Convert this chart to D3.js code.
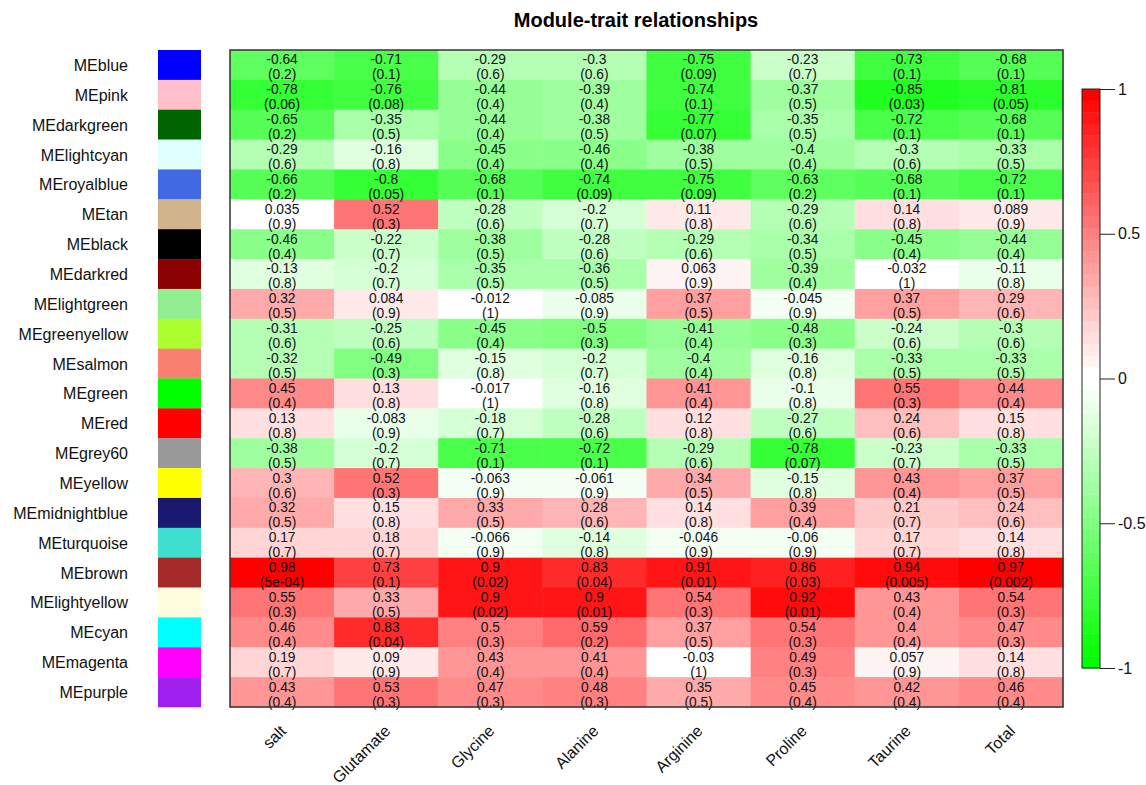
<!DOCTYPE html>
<html>
<head>
<meta charset="utf-8">
<script src="https://cdn.jsdelivr.net/npm/d3@7"></script>
<style>
  html, body { margin: 0; padding: 0; background: #fff; }
  svg { display: block; font-family: "Liberation Sans", Arial, sans-serif; }
</style>
</head>
<body>
<svg id="chart" width="1146" height="785"></svg>
<script>
// Module eigengenes (rows) and traits (columns)
const modules = ["MEblue","MEpink","MEdarkgreen","MElightcyan","MEroyalblue","MEtan","MEblack",
  "MEdarkred","MElightgreen","MEgreenyellow","MEsalmon","MEgreen","MEred","MEgrey60","MEyellow",
  "MEmidnightblue","MEturquoise","MEbrown","MElightyellow","MEcyan","MEmagenta","MEpurple"];

const moduleColors = ["#0000FF","#FFC0CB","#006400","#E0FFFF","#4169E1","#D2B48C","#000000",
  "#8B0000","#90EE90","#ADFF2F","#FA8072","#00FF00","#FF0000","#999999","#FFFF00",
  "#191970","#40E0D0","#A52A2A","#FFFFE0","#00FFFF","#FF00FF","#A020F0"];

const traits = ["salt","Glutamate","Glycine","Alanine","Arginine","Proline","Taurine","Total"];

// Correlation of each module eigengene with each trait
const correlations = [
  [-0.64,-0.71,-0.29,-0.3,-0.75,-0.23,-0.73,-0.68],
  [-0.78,-0.76,-0.44,-0.39,-0.74,-0.37,-0.85,-0.81],
  [-0.65,-0.35,-0.44,-0.38,-0.77,-0.35,-0.72,-0.68],
  [-0.29,-0.16,-0.45,-0.46,-0.38,-0.4,-0.3,-0.33],
  [-0.66,-0.8,-0.68,-0.74,-0.75,-0.63,-0.68,-0.72],
  [0.035,0.52,-0.28,-0.2,0.11,-0.29,0.14,0.089],
  [-0.46,-0.22,-0.38,-0.28,-0.29,-0.34,-0.45,-0.44],
  [-0.13,-0.2,-0.35,-0.36,0.063,-0.39,-0.032,-0.11],
  [0.32,0.084,-0.012,-0.085,0.37,-0.045,0.37,0.29],
  [-0.31,-0.25,-0.45,-0.5,-0.41,-0.48,-0.24,-0.3],
  [-0.32,-0.49,-0.15,-0.2,-0.4,-0.16,-0.33,-0.33],
  [0.45,0.13,-0.017,-0.16,0.41,-0.1,0.55,0.44],
  [0.13,-0.083,-0.18,-0.28,0.12,-0.27,0.24,0.15],
  [-0.38,-0.2,-0.71,-0.72,-0.29,-0.78,-0.23,-0.33],
  [0.3,0.52,-0.063,-0.061,0.34,-0.15,0.43,0.37],
  [0.32,0.15,0.33,0.28,0.14,0.39,0.21,0.24],
  [0.17,0.18,-0.066,-0.14,-0.046,-0.06,0.17,0.14],
  [0.98,0.73,0.9,0.83,0.91,0.86,0.94,0.97],
  [0.55,0.33,0.9,0.9,0.54,0.92,0.43,0.54],
  [0.46,0.83,0.5,0.59,0.37,0.54,0.4,0.47],
  [0.19,0.09,0.43,0.41,-0.03,0.49,0.057,0.14],
  [0.43,0.53,0.47,0.48,0.35,0.45,0.42,0.46]
];

// Corresponding p-values, as printed
const pvalues = [
  ["0.2","0.1","0.6","0.6","0.09","0.7","0.1","0.1"],
  ["0.06","0.08","0.4","0.4","0.1","0.5","0.03","0.05"],
  ["0.2","0.5","0.4","0.5","0.07","0.5","0.1","0.1"],
  ["0.6","0.8","0.4","0.4","0.5","0.4","0.6","0.5"],
  ["0.2","0.05","0.1","0.09","0.09","0.2","0.1","0.1"],
  ["0.9","0.3","0.6","0.7","0.8","0.6","0.8","0.9"],
  ["0.4","0.7","0.5","0.6","0.6","0.5","0.4","0.4"],
  ["0.8","0.7","0.5","0.5","0.9","0.4","1","0.8"],
  ["0.5","0.9","1","0.9","0.5","0.9","0.5","0.6"],
  ["0.6","0.6","0.4","0.3","0.4","0.3","0.6","0.6"],
  ["0.5","0.3","0.8","0.7","0.4","0.8","0.5","0.5"],
  ["0.4","0.8","1","0.8","0.4","0.8","0.3","0.4"],
  ["0.8","0.9","0.7","0.6","0.8","0.6","0.6","0.8"],
  ["0.5","0.7","0.1","0.1","0.6","0.07","0.7","0.5"],
  ["0.6","0.3","0.9","0.9","0.5","0.8","0.4","0.5"],
  ["0.5","0.8","0.5","0.6","0.8","0.4","0.7","0.6"],
  ["0.7","0.7","0.9","0.8","0.9","0.9","0.7","0.8"],
  ["5e-04","0.1","0.02","0.04","0.01","0.03","0.005","0.002"],
  ["0.3","0.5","0.02","0.01","0.3","0.01","0.4","0.3"],
  ["0.4","0.04","0.3","0.2","0.5","0.3","0.4","0.3"],
  ["0.7","0.9","0.4","0.4","1","0.3","0.9","0.8"],
  ["0.4","0.3","0.3","0.3","0.5","0.4","0.4","0.4"]
];

const legendTicks = [1, 0.5, 0, -0.5, -1];

// Green-white-red palette in 50 discrete steps
const nColors = 50, half = nColors / 2;
const palette = d3.range(nColors).map(i => {
  if (i < half) {
    const t = i / (half - 1);
    return d3.rgb(255 * t, 255, 255 * t).formatHex();
  }
  const t = (i - half) / (half - 1);
  return d3.rgb(255, 255 * (1 - t), 255 * (1 - t)).formatHex();
});
const color = d3.scaleQuantize().domain([-1, 1]).range(palette);

const svg = d3.select("#chart");
const plot = { left: 230, right: 1063, top: 50, bottom: 707 };

const x = d3.scaleBand().domain(traits).range([plot.left, plot.right]);
const y = d3.scaleBand().domain(modules).range([plot.top, plot.bottom]);

// Title
svg.append("text")
  .attr("x", 636).attr("y", 27)
  .attr("text-anchor", "middle")
  .attr("font-size", 20).attr("font-weight", "bold")
  .text("Module-trait relationships");

// Heatmap cells
const cells = [];
modules.forEach((m, i) => traits.forEach((t, j) => {
  cells.push({ m, t, r: correlations[i][j], p: pvalues[i][j] });
}));

svg.append("g").selectAll("rect").data(cells).join("rect")
  .attr("x", d => x(d.t)).attr("y", d => y(d.m))
  .attr("width", x.bandwidth() + 0.5).attr("height", y.bandwidth() + 0.5)
  .attr("fill", d => color(d.r));

// Cell text: correlation and (p-value)
const txt = svg.append("g").attr("font-size", 13.8).attr("fill", "#111").attr("text-anchor", "middle");
cells.forEach(d => {
  const cx = x(d.t) + x.bandwidth() / 2;
  const cy = y(d.m) + y.bandwidth() / 2;
  txt.append("text").attr("x", cx).attr("y", cy - 0.5).text(String(d.r));
  txt.append("text").attr("x", cx).attr("y", cy + 14.5).text("(" + d.p + ")");
});

// Plot frame
svg.append("rect")
  .attr("x", plot.left).attr("y", plot.top)
  .attr("width", plot.right - plot.left).attr("height", plot.bottom - plot.top)
  .attr("fill", "none").attr("stroke", "#333").attr("stroke-width", 1.5);

// Module colour swatches
svg.append("g").selectAll("rect").data(modules).join("rect")
  .attr("x", 158).attr("y", d => y(d))
  .attr("width", 43).attr("height", y.bandwidth() + 0.3)
  .attr("fill", (d, i) => moduleColors[i]);

// Row labels
svg.append("g").attr("font-size", 16).attr("fill", "#111").attr("text-anchor", "end")
  .selectAll("text").data(modules).join("text")
  .attr("x", 128).attr("y", d => y(d) + y.bandwidth() / 2 + 6)
  .text(d => d);

// Column labels, rotated
svg.append("g").attr("font-size", 16).attr("fill", "#111").attr("text-anchor", "end")
  .selectAll("text").data(traits).join("text")
  .attr("transform", d => `translate(${x(d) + x.bandwidth() / 2 + 5},${732}) rotate(-45)`)
  .text(d => d);

// Colour key
const key = { x: 1082, w: 18, top: 89, bottom: 668 };
const ky = d3.scaleLinear().domain([-1, 1]).range([key.bottom, key.top]);
const bandH = (key.bottom - key.top) / nColors;
svg.append("g").selectAll("rect").data(palette).join("rect")
  .attr("x", key.x).attr("y", (d, i) => key.bottom - (i + 1) * bandH)
  .attr("width", key.w).attr("height", bandH + 0.4)
  .attr("fill", d => d);
svg.append("rect")
  .attr("x", key.x).attr("y", key.top).attr("width", key.w).attr("height", key.bottom - key.top)
  .attr("fill", "none").attr("stroke", "#222").attr("stroke-width", 1);

const keyAxis = d3.axisRight(ky).tickValues(legendTicks).tickSize(15).tickPadding(3)
  .tickFormat(d => String(d));
const gk = svg.append("g").attr("transform", `translate(${key.x + key.w},0)`).call(keyAxis);
gk.select(".domain").remove();
gk.selectAll(".tick line").attr("stroke", "#222");
gk.selectAll(".tick text").attr("font-size", 16).attr("fill", "#111")
  .attr("font-family", "Liberation Sans, Arial, sans-serif");
</script>
</body>
</html>
